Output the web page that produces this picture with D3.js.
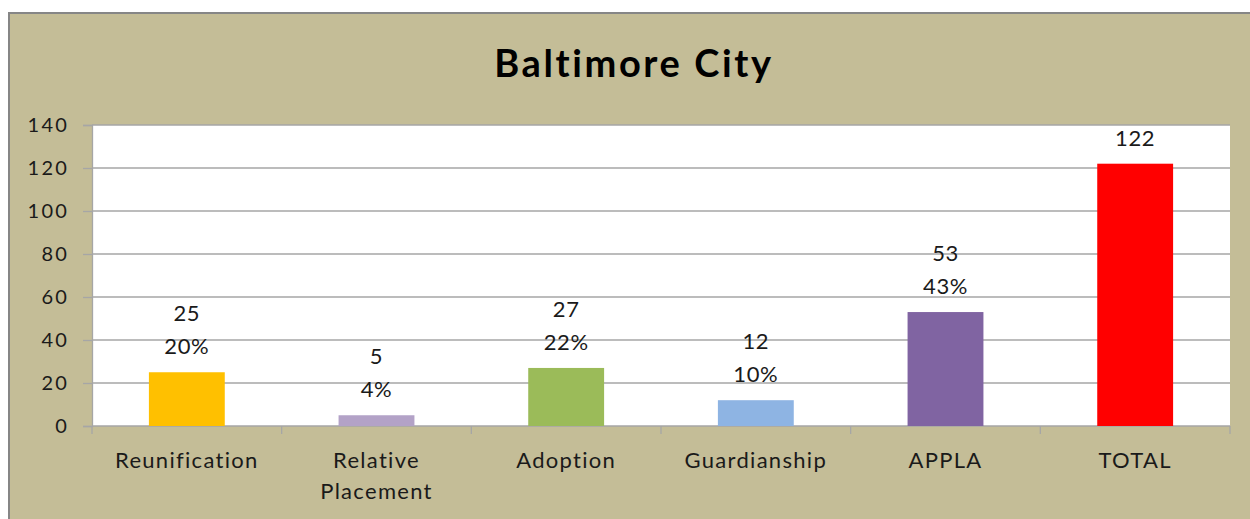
<!DOCTYPE html>
<html>
<head>
<meta charset="utf-8">
<script src="https://cdnjs.cloudflare.com/ajax/libs/d3/7.8.5/d3.min.js"></script>
<style>
  body { margin: 0; background: #fff; }
  svg { display: block; font-family: Lato, "Open Sans", sans-serif; }
</style>
</head>
<body>
<svg id="chart" width="1250" height="519"></svg>
<script>
// chart data
const categories = ["Reunification", "Relative Placement", "Adoption", "Guardianship", "APPLA", "TOTAL"];
const values = [25, 5, 27, 12, 53, 122];
const percents = ["20%", "4%", "22%", "10%", "43%", null];
const barColors = ["#FFC000", "#B3A2C7", "#9BBB59", "#8EB4E3", "#8064A2", "#FF0000"];
const yTicks = [0, 20, 40, 60, 80, 100, 120, 140];

const svg = d3.select("#chart");
const W = 1250, H = 519;
const plot = { left: 92, top: 125, right: 1230, bottom: 426 };

// outer chart area
svg.append("rect")
    .attr("x", 9).attr("y", 13)
    .attr("width", W + 10).attr("height", H + 10)
    .attr("fill", "#C4BD97")
    .attr("stroke", "#868686").attr("stroke-width", 2);

svg.append("text")
    .attr("x", 634).attr("y", 77)
    .attr("text-anchor", "middle")
    .attr("font-size", 38).attr("font-weight", "bold")
    .attr("letter-spacing", 2.6)
    .attr("fill", "#000")
    .text("Baltimore City");

const x = d3.scaleBand()
    .domain(categories)
    .range([plot.left, plot.right])
    .paddingInner(0.6).paddingOuter(0.3);

const y = d3.scaleLinear()
    .domain([0, 140])
    .range([plot.bottom, plot.top]);

svg.append("rect")
    .attr("x", plot.left).attr("y", plot.top)
    .attr("width", plot.right - plot.left).attr("height", plot.bottom - plot.top)
    .attr("fill", "#fff");

// gridlines
svg.append("g")
    .selectAll("line")
    .data(yTicks.filter(d => d > 0))
    .join("line")
    .attr("x1", plot.left).attr("x2", plot.right)
    .attr("y1", d => y(d)).attr("y2", d => y(d))
    .attr("stroke", "#A6A6A6").attr("stroke-width", 1.3);

// y axis
const yAxis = svg.append("g")
    .attr("transform", `translate(${plot.left},0)`)
    .call(d3.axisLeft(y).tickValues(yTicks).tickSize(9).tickPadding(14));
yAxis.select(".domain").attr("stroke", "#A6A6A6").attr("stroke-width", 1.3);
yAxis.selectAll(".tick line").attr("stroke", "#A6A6A6").attr("stroke-width", 1.3);
yAxis.selectAll(".tick text")
    .attr("font-size", 20).attr("fill", "#1a1a1a")
    .attr("letter-spacing", 2.2)
    .attr("font-family", "Lato, sans-serif");

// x axis, ticks on band edges
const xAxisG = svg.append("g");
xAxisG.append("line")
    .attr("x1", plot.left).attr("x2", plot.right)
    .attr("y1", plot.bottom).attr("y2", plot.bottom)
    .attr("stroke", "#A6A6A6").attr("stroke-width", 1.3);
const edges = d3.range(categories.length + 1).map(i => plot.left + i * (plot.right - plot.left) / categories.length);
xAxisG.selectAll("line.tk")
    .data(edges)
    .join("line")
    .attr("class", "tk")
    .attr("x1", d => d).attr("x2", d => d)
    .attr("y1", plot.bottom).attr("y2", plot.bottom + 8)
    .attr("stroke", "#A6A6A6").attr("stroke-width", 1.3);

const xLabels = svg.append("g")
    .selectAll("text")
    .data(categories)
    .join("text")
    .attr("text-anchor", "middle")
    .attr("font-size", 22).attr("letter-spacing", 1.3)
    .attr("fill", "#1a1a1a");
xLabels.each(function (d) {
    const words = d === "Relative Placement" ? ["Relative", "Placement"] : [d];
    const t = d3.select(this);
    const cx = x(d) + x.bandwidth() / 2;
    words.forEach((w, i) => {
        t.append("tspan").attr("x", cx).attr("y", 468 + i * 31).text(w);
    });
});

// bars
svg.append("g")
    .selectAll("rect")
    .data(categories)
    .join("rect")
    .attr("x", d => x(d))
    .attr("y", (d, i) => y(values[i]))
    .attr("width", x.bandwidth())
    .attr("height", (d, i) => y(0) - y(values[i]))
    .attr("fill", (d, i) => barColors[i]);

// data labels
const labels = svg.append("g")
    .selectAll("text")
    .data(categories)
    .join("text")
    .attr("text-anchor", "middle")
    .attr("font-size", 22).attr("letter-spacing", 0.6)
    .attr("fill", "#1a1a1a");
labels.each(function (d, i) {
    const t = d3.select(this);
    const cx = x(d) + x.bandwidth() / 2;
    const top = y(values[i]);
    if (percents[i]) {
        t.append("tspan").attr("x", cx).attr("y", top - 51).text(values[i]);
        t.append("tspan").attr("x", cx).attr("y", top - 18).text(percents[i]);
    } else {
        t.append("tspan").attr("x", cx).attr("y", top - 18).text(values[i]);
    }
});
</script>
</body>
</html>
